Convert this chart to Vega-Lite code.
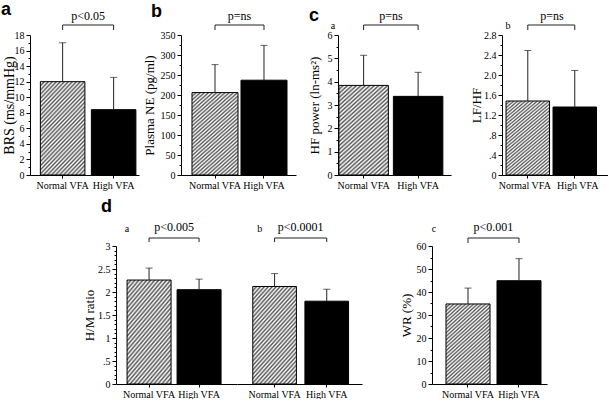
{
"$schema": "https://vega.github.io/schema/vega-lite/v6.json",
"background": "white",
"padding": {"left": 1, "top": 1, "right": 0, "bottom": 0},
"config": {
 "view": {"stroke": null},
 "font": "Liberation Serif",
 "axis": {"labelFont": "Liberation Serif", "titleFont": "Liberation Serif", "labelColor": "black", "titleColor": "black", "domainColor": "black", "tickColor": "black", "grid": false, "titleFontWeight": "normal", "domainWidth": 1, "tickWidth": 1, "labelOverlap": false},
 "axisY": {"labelFontSize": 10, "titleFontSize": 13, "labelPadding": 2},
 "title": {"font": "Liberation Sans", "fontWeight": "bold", "fontSize": 18, "anchor": "start", "frame": "group", "baseline": "alphabetic", "color": "black"},
 "text": {"font": "Liberation Serif", "color": "black"}
},
"datasets": {"bars": [
 {"panel": "BRS", "group": "Normal VFA", "mean": 12.0, "upper": 17.0},
 {"panel": "BRS", "group": "High VFA", "mean": 8.4, "upper": 12.55},
 {"panel": "NE", "group": "Normal VFA", "mean": 206, "upper": 276},
 {"panel": "NE", "group": "High VFA", "mean": 237, "upper": 324},
 {"panel": "HF", "group": "Normal VFA", "mean": 3.84, "upper": 5.13},
 {"panel": "HF", "group": "High VFA", "mean": 3.37, "upper": 4.4},
 {"panel": "LFHF", "group": "Normal VFA", "mean": 1.48, "upper": 2.49},
 {"panel": "LFHF", "group": "High VFA", "mean": 1.36, "upper": 2.09},
 {"panel": "HMa", "group": "Normal VFA", "mean": 2.26, "upper": 2.52},
 {"panel": "HMa", "group": "High VFA", "mean": 2.05, "upper": 2.28},
 {"panel": "HMb", "group": "Normal VFA", "mean": 2.12, "upper": 2.4},
 {"panel": "HMb", "group": "High VFA", "mean": 1.8, "upper": 2.06},
 {"panel": "WR", "group": "Normal VFA", "mean": 34.8, "upper": 41.7},
 {"panel": "WR", "group": "High VFA", "mean": 44.9, "upper": 54.5}
]},
"spacing": 8,
"vconcat": [
 {"hconcat": [
   {"width": 109, "height": 140,
    "title": {"text": "a", "dx": -29, "offset": -9},
    "data": {"name": "bars"},
    "transform": [{"filter": "datum.panel === 'BRS'"}],
    "encoding": {"x": {"field": "group", "type": "nominal", "sort": ["Normal VFA", "High VFA"], "scale": {"paddingInner": 0.127, "paddingOuter": 0.132, "align": 0.77}, "axis": {"title": null, "labelAngle": 0, "labelFontSize": 10, "tickSize": 3, "labelPadding": 2}}},
    "layer": [
     {"transform": [{"filter": "datum.group === 'Normal VFA'"}], "mark": {"type": "bar", "stroke": "black", "strokeWidth": 1, "fill": {"gradient":"linear","x1":0,"y1":0,"x2":0.6,"y2":1.2,"stops":[{"offset":0,"color":"#555"},{"offset":0.015,"color":"#fff"},{"offset":0.03,"color":"#555"},{"offset":0.045,"color":"#fff"},{"offset":0.06,"color":"#555"},{"offset":0.075,"color":"#fff"},{"offset":0.09,"color":"#555"},{"offset":0.105,"color":"#fff"},{"offset":0.12,"color":"#555"},{"offset":0.135,"color":"#fff"},{"offset":0.15,"color":"#555"},{"offset":0.165,"color":"#fff"},{"offset":0.18,"color":"#555"},{"offset":0.195,"color":"#fff"},{"offset":0.21,"color":"#555"},{"offset":0.225,"color":"#fff"},{"offset":0.24,"color":"#555"},{"offset":0.255,"color":"#fff"},{"offset":0.27,"color":"#555"},{"offset":0.285,"color":"#fff"},{"offset":0.3,"color":"#555"},{"offset":0.315,"color":"#fff"},{"offset":0.33,"color":"#555"},{"offset":0.345,"color":"#fff"},{"offset":0.36,"color":"#555"},{"offset":0.375,"color":"#fff"},{"offset":0.39,"color":"#555"},{"offset":0.405,"color":"#fff"},{"offset":0.42,"color":"#555"},{"offset":0.435,"color":"#fff"},{"offset":0.45,"color":"#555"},{"offset":0.465,"color":"#fff"},{"offset":0.48,"color":"#555"},{"offset":0.495,"color":"#fff"},{"offset":0.51,"color":"#555"},{"offset":0.525,"color":"#fff"},{"offset":0.54,"color":"#555"},{"offset":0.555,"color":"#fff"},{"offset":0.57,"color":"#555"},{"offset":0.585,"color":"#fff"},{"offset":0.6,"color":"#555"},{"offset":0.615,"color":"#fff"},{"offset":0.63,"color":"#555"},{"offset":0.645,"color":"#fff"},{"offset":0.66,"color":"#555"},{"offset":0.675,"color":"#fff"},{"offset":0.69,"color":"#555"},{"offset":0.705,"color":"#fff"},{"offset":0.72,"color":"#555"},{"offset":0.735,"color":"#fff"},{"offset":0.75,"color":"#555"},{"offset":0.765,"color":"#fff"},{"offset":0.78,"color":"#555"},{"offset":0.795,"color":"#fff"},{"offset":0.81,"color":"#555"},{"offset":0.825,"color":"#fff"},{"offset":0.84,"color":"#555"},{"offset":0.855,"color":"#fff"},{"offset":0.87,"color":"#555"},{"offset":0.885,"color":"#fff"},{"offset":0.9,"color":"#555"},{"offset":0.915,"color":"#fff"},{"offset":0.93,"color":"#555"},{"offset":0.945,"color":"#fff"},{"offset":0.96,"color":"#555"},{"offset":0.975,"color":"#fff"},{"offset":0.99,"color":"#555"},{"offset":1,"color":"#fff"}]}},
      "encoding": {"y": {"field": "mean", "type": "quantitative", "scale": {"domain": [0, 18], "nice": false},
        "axis": {"title": "BRS (ms/mmHg)", "titleFontSize": 14, "titlePadding": -2, "labelOverlap": false, "tickCount": 100, "values": [0,1,2,3,4,5,6,7,8,9,10,11,12,13,14,15,16,17,18], "labelExpr": "datum.value % 2 === 0 ? format(datum.value, 'd') : ''", "tickSize": {"condition": {"test": "datum.value % 2 !== 0", "value": 2}, "value": 4}}}}},
     {"transform": [{"filter": "datum.group === 'High VFA'"}], "mark": {"type": "bar", "fill": "black", "stroke": "black", "strokeWidth": 1}, "encoding": {"y": {"field": "mean", "type": "quantitative"}}},
     {"mark": {"type": "rule", "color": "#222"}, "encoding": {"y": {"field": "mean", "type": "quantitative"}, "y2": {"field": "upper"}}},
     {"mark": {"type": "tick", "color": "#222", "size": 7, "thickness": 1, "orient": "horizontal"}, "encoding": {"y": {"field": "upper", "type": "quantitative"}}},
     {"mark": {"type": "line", "color": "#222", "strokeWidth": 1, "yOffset": -10}, "encoding": {"y": {"datum": 18}}},
     {"mark": {"type": "rule", "color": "#222", "yOffset": -10, "y2Offset": -5}, "encoding": {"y": {"datum": 18}, "y2": {"datum": 18}}},
     {"transform": [{"filter": "datum.group === 'Normal VFA'"}], "mark": {"type": "text", "text": "p<0.05", "fontSize": 12, "baseline": "alphabetic", "dy": -15}, "encoding": {"x": {"datum": "Normal VFA", "bandPosition": 1.073}, "y": {"datum": 18}}}
    ]},
   {"width": 42, "height": 140, "data": {"values": []}, "mark": {"type": "point", "opacity": 0}},
   {"width": 115, "height": 140,
    "title": {"text": "b", "dx": -30, "offset": -11},
    "data": {"name": "bars"},
    "transform": [{"filter": "datum.panel === 'NE'"}],
    "encoding": {"x": {"field": "group", "type": "nominal", "sort": ["Normal VFA", "High VFA"], "scale": {"paddingInner": 0.061, "paddingOuter": 0.204, "align": 0.55}, "axis": {"title": null, "labelAngle": 0, "labelFontSize": 10, "tickSize": 3, "labelPadding": 2}}},
    "layer": [
     {"transform": [{"filter": "datum.group === 'Normal VFA'"}], "mark": {"type": "bar", "stroke": "black", "strokeWidth": 1, "fill": {"gradient":"linear","x1":0,"y1":0,"x2":0.6,"y2":1.2,"stops":[{"offset":0,"color":"#555"},{"offset":0.015,"color":"#fff"},{"offset":0.03,"color":"#555"},{"offset":0.045,"color":"#fff"},{"offset":0.06,"color":"#555"},{"offset":0.075,"color":"#fff"},{"offset":0.09,"color":"#555"},{"offset":0.105,"color":"#fff"},{"offset":0.12,"color":"#555"},{"offset":0.135,"color":"#fff"},{"offset":0.15,"color":"#555"},{"offset":0.165,"color":"#fff"},{"offset":0.18,"color":"#555"},{"offset":0.195,"color":"#fff"},{"offset":0.21,"color":"#555"},{"offset":0.225,"color":"#fff"},{"offset":0.24,"color":"#555"},{"offset":0.255,"color":"#fff"},{"offset":0.27,"color":"#555"},{"offset":0.285,"color":"#fff"},{"offset":0.3,"color":"#555"},{"offset":0.315,"color":"#fff"},{"offset":0.33,"color":"#555"},{"offset":0.345,"color":"#fff"},{"offset":0.36,"color":"#555"},{"offset":0.375,"color":"#fff"},{"offset":0.39,"color":"#555"},{"offset":0.405,"color":"#fff"},{"offset":0.42,"color":"#555"},{"offset":0.435,"color":"#fff"},{"offset":0.45,"color":"#555"},{"offset":0.465,"color":"#fff"},{"offset":0.48,"color":"#555"},{"offset":0.495,"color":"#fff"},{"offset":0.51,"color":"#555"},{"offset":0.525,"color":"#fff"},{"offset":0.54,"color":"#555"},{"offset":0.555,"color":"#fff"},{"offset":0.57,"color":"#555"},{"offset":0.585,"color":"#fff"},{"offset":0.6,"color":"#555"},{"offset":0.615,"color":"#fff"},{"offset":0.63,"color":"#555"},{"offset":0.645,"color":"#fff"},{"offset":0.66,"color":"#555"},{"offset":0.675,"color":"#fff"},{"offset":0.69,"color":"#555"},{"offset":0.705,"color":"#fff"},{"offset":0.72,"color":"#555"},{"offset":0.735,"color":"#fff"},{"offset":0.75,"color":"#555"},{"offset":0.765,"color":"#fff"},{"offset":0.78,"color":"#555"},{"offset":0.795,"color":"#fff"},{"offset":0.81,"color":"#555"},{"offset":0.825,"color":"#fff"},{"offset":0.84,"color":"#555"},{"offset":0.855,"color":"#fff"},{"offset":0.87,"color":"#555"},{"offset":0.885,"color":"#fff"},{"offset":0.9,"color":"#555"},{"offset":0.915,"color":"#fff"},{"offset":0.93,"color":"#555"},{"offset":0.945,"color":"#fff"},{"offset":0.96,"color":"#555"},{"offset":0.975,"color":"#fff"},{"offset":0.99,"color":"#555"},{"offset":1,"color":"#fff"}]}},
      "encoding": {"y": {"field": "mean", "type": "quantitative", "scale": {"domain": [0, 350], "nice": false},
        "axis": {"title": "Plasma NE (pg/ml)", "titlePadding": 4, "labelOverlap": false, "tickCount": 100, "values": [0,25,50,75,100,125,150,175,200,225,250,275,300,325,350], "labelExpr": "datum.value % 50 === 0 ? format(datum.value, 'd') : ''", "tickSize": {"condition": {"test": "datum.value % 50 !== 0", "value": 2}, "value": 4}}}}},
     {"transform": [{"filter": "datum.group === 'High VFA'"}], "mark": {"type": "bar", "fill": "black", "stroke": "black", "strokeWidth": 1}, "encoding": {"y": {"field": "mean", "type": "quantitative"}}},
     {"mark": {"type": "rule", "color": "#222"}, "encoding": {"y": {"field": "mean", "type": "quantitative"}, "y2": {"field": "upper"}}},
     {"mark": {"type": "tick", "color": "#222", "size": 7, "thickness": 1, "orient": "horizontal"}, "encoding": {"y": {"field": "upper", "type": "quantitative"}}},
     {"mark": {"type": "line", "color": "#222", "strokeWidth": 1, "yOffset": -10}, "encoding": {"y": {"datum": 350}}},
     {"mark": {"type": "rule", "color": "#222", "yOffset": -10, "y2Offset": -5}, "encoding": {"y": {"datum": 350}, "y2": {"datum": 350}}},
     {"transform": [{"filter": "datum.group === 'Normal VFA'"}], "mark": {"type": "text", "text": "p=ns", "fontSize": 12, "baseline": "alphabetic", "dy": -15}, "encoding": {"x": {"datum": "Normal VFA", "bandPosition": 1.032}, "y": {"datum": 350}}}
    ]},
   {"width": 42, "height": 140, "data": {"values": []}, "mark": {"type": "point", "opacity": 0}},
   {"width": 113, "height": 140,
    "title": {"text": "c", "dx": -29, "offset": -15},
    "data": {"name": "bars"},
    "transform": [{"filter": "datum.panel === 'HF'"}],
    "encoding": {"x": {"field": "group", "type": "nominal", "sort": ["Normal VFA", "High VFA"], "scale": {"paddingInner": 0.092, "paddingOuter": 0.083, "align": 0.1}, "axis": {"title": null, "labelAngle": 0, "labelFontSize": 10, "tickSize": 3, "labelPadding": 2}}},
    "layer": [
     {"transform": [{"filter": "datum.group === 'Normal VFA'"}], "mark": {"type": "bar", "stroke": "black", "strokeWidth": 1, "fill": {"gradient":"linear","x1":0,"y1":0,"x2":0.6,"y2":1.2,"stops":[{"offset":0,"color":"#555"},{"offset":0.015,"color":"#fff"},{"offset":0.03,"color":"#555"},{"offset":0.045,"color":"#fff"},{"offset":0.06,"color":"#555"},{"offset":0.075,"color":"#fff"},{"offset":0.09,"color":"#555"},{"offset":0.105,"color":"#fff"},{"offset":0.12,"color":"#555"},{"offset":0.135,"color":"#fff"},{"offset":0.15,"color":"#555"},{"offset":0.165,"color":"#fff"},{"offset":0.18,"color":"#555"},{"offset":0.195,"color":"#fff"},{"offset":0.21,"color":"#555"},{"offset":0.225,"color":"#fff"},{"offset":0.24,"color":"#555"},{"offset":0.255,"color":"#fff"},{"offset":0.27,"color":"#555"},{"offset":0.285,"color":"#fff"},{"offset":0.3,"color":"#555"},{"offset":0.315,"color":"#fff"},{"offset":0.33,"color":"#555"},{"offset":0.345,"color":"#fff"},{"offset":0.36,"color":"#555"},{"offset":0.375,"color":"#fff"},{"offset":0.39,"color":"#555"},{"offset":0.405,"color":"#fff"},{"offset":0.42,"color":"#555"},{"offset":0.435,"color":"#fff"},{"offset":0.45,"color":"#555"},{"offset":0.465,"color":"#fff"},{"offset":0.48,"color":"#555"},{"offset":0.495,"color":"#fff"},{"offset":0.51,"color":"#555"},{"offset":0.525,"color":"#fff"},{"offset":0.54,"color":"#555"},{"offset":0.555,"color":"#fff"},{"offset":0.57,"color":"#555"},{"offset":0.585,"color":"#fff"},{"offset":0.6,"color":"#555"},{"offset":0.615,"color":"#fff"},{"offset":0.63,"color":"#555"},{"offset":0.645,"color":"#fff"},{"offset":0.66,"color":"#555"},{"offset":0.675,"color":"#fff"},{"offset":0.69,"color":"#555"},{"offset":0.705,"color":"#fff"},{"offset":0.72,"color":"#555"},{"offset":0.735,"color":"#fff"},{"offset":0.75,"color":"#555"},{"offset":0.765,"color":"#fff"},{"offset":0.78,"color":"#555"},{"offset":0.795,"color":"#fff"},{"offset":0.81,"color":"#555"},{"offset":0.825,"color":"#fff"},{"offset":0.84,"color":"#555"},{"offset":0.855,"color":"#fff"},{"offset":0.87,"color":"#555"},{"offset":0.885,"color":"#fff"},{"offset":0.9,"color":"#555"},{"offset":0.915,"color":"#fff"},{"offset":0.93,"color":"#555"},{"offset":0.945,"color":"#fff"},{"offset":0.96,"color":"#555"},{"offset":0.975,"color":"#fff"},{"offset":0.99,"color":"#555"},{"offset":1,"color":"#fff"}]}},
      "encoding": {"y": {"field": "mean", "type": "quantitative", "scale": {"domain": [0, 6], "nice": false},
        "axis": {"title": "HF power (ln-ms²)", "titlePadding": 6, "labelOverlap": false, "tickCount": 100, "values": [0,0.5,1,1.5,2,2.5,3,3.5,4,4.5,5,5.5,6], "labelExpr": "datum.value % 1 === 0 ? format(datum.value, 'd') : ''", "tickSize": {"condition": {"test": "datum.value % 1 !== 0", "value": 2}, "value": 4}}}}},
     {"transform": [{"filter": "datum.group === 'High VFA'"}], "mark": {"type": "bar", "fill": "black", "stroke": "black", "strokeWidth": 1}, "encoding": {"y": {"field": "mean", "type": "quantitative"}}},
     {"mark": {"type": "rule", "color": "#222"}, "encoding": {"y": {"field": "mean", "type": "quantitative"}, "y2": {"field": "upper"}}},
     {"mark": {"type": "tick", "color": "#222", "size": 7, "thickness": 1, "orient": "horizontal"}, "encoding": {"y": {"field": "upper", "type": "quantitative"}}},
     {"mark": {"type": "line", "color": "#222", "strokeWidth": 1, "yOffset": -10}, "encoding": {"y": {"datum": 6}}},
     {"mark": {"type": "rule", "color": "#222", "yOffset": -10, "y2Offset": -5}, "encoding": {"y": {"datum": 6}, "y2": {"datum": 6}}},
     {"transform": [{"filter": "datum.group === 'Normal VFA'"}], "mark": {"type": "text", "text": "p=ns", "fontSize": 12, "baseline": "alphabetic", "dy": -15}, "encoding": {"x": {"datum": "Normal VFA", "bandPosition": 1.051}, "y": {"datum": 6}}},
     {"transform": [{"filter": "datum.group === 'Normal VFA'"}], "mark": {"type": "text", "text": "a", "fontSize": 10, "baseline": "alphabetic", "dy": -6, "dx": -6}, "encoding": {"x": {"datum": "Normal VFA", "bandPosition": 0}, "y": {"datum": 6}}}
    ]},
  {"width": 51, "height": 140, "data": {"values": []}, "mark": {"type": "point", "opacity": 0}},
  {"width": 106, "height": 140,
   "data": {"name": "bars"},
   "transform": [{"filter": "datum.panel === 'LFHF'"}],
   "encoding": {"x": {"field": "group", "type": "nominal", "sort": ["Normal VFA", "High VFA"], "scale": {"paddingInner": 0.074, "paddingOuter": 0.165, "align": 0.26}, "axis": {"title": null, "labelAngle": 0, "labelFontSize": 10, "tickSize": 3, "labelPadding": 2, "labelOffset": {"condition": {"test": "datum.value === 'Normal VFA'", "value": -3}, "value": 3}}}},
   "layer": [
    {"transform": [{"filter": "datum.group === 'Normal VFA'"}], "mark": {"type": "bar", "stroke": "black", "strokeWidth": 1, "fill": {"gradient":"linear","x1":0,"y1":0,"x2":0.6,"y2":1.2,"stops":[{"offset":0,"color":"#555"},{"offset":0.015,"color":"#fff"},{"offset":0.03,"color":"#555"},{"offset":0.045,"color":"#fff"},{"offset":0.06,"color":"#555"},{"offset":0.075,"color":"#fff"},{"offset":0.09,"color":"#555"},{"offset":0.105,"color":"#fff"},{"offset":0.12,"color":"#555"},{"offset":0.135,"color":"#fff"},{"offset":0.15,"color":"#555"},{"offset":0.165,"color":"#fff"},{"offset":0.18,"color":"#555"},{"offset":0.195,"color":"#fff"},{"offset":0.21,"color":"#555"},{"offset":0.225,"color":"#fff"},{"offset":0.24,"color":"#555"},{"offset":0.255,"color":"#fff"},{"offset":0.27,"color":"#555"},{"offset":0.285,"color":"#fff"},{"offset":0.3,"color":"#555"},{"offset":0.315,"color":"#fff"},{"offset":0.33,"color":"#555"},{"offset":0.345,"color":"#fff"},{"offset":0.36,"color":"#555"},{"offset":0.375,"color":"#fff"},{"offset":0.39,"color":"#555"},{"offset":0.405,"color":"#fff"},{"offset":0.42,"color":"#555"},{"offset":0.435,"color":"#fff"},{"offset":0.45,"color":"#555"},{"offset":0.465,"color":"#fff"},{"offset":0.48,"color":"#555"},{"offset":0.495,"color":"#fff"},{"offset":0.51,"color":"#555"},{"offset":0.525,"color":"#fff"},{"offset":0.54,"color":"#555"},{"offset":0.555,"color":"#fff"},{"offset":0.57,"color":"#555"},{"offset":0.585,"color":"#fff"},{"offset":0.6,"color":"#555"},{"offset":0.615,"color":"#fff"},{"offset":0.63,"color":"#555"},{"offset":0.645,"color":"#fff"},{"offset":0.66,"color":"#555"},{"offset":0.675,"color":"#fff"},{"offset":0.69,"color":"#555"},{"offset":0.705,"color":"#fff"},{"offset":0.72,"color":"#555"},{"offset":0.735,"color":"#fff"},{"offset":0.75,"color":"#555"},{"offset":0.765,"color":"#fff"},{"offset":0.78,"color":"#555"},{"offset":0.795,"color":"#fff"},{"offset":0.81,"color":"#555"},{"offset":0.825,"color":"#fff"},{"offset":0.84,"color":"#555"},{"offset":0.855,"color":"#fff"},{"offset":0.87,"color":"#555"},{"offset":0.885,"color":"#fff"},{"offset":0.9,"color":"#555"},{"offset":0.915,"color":"#fff"},{"offset":0.93,"color":"#555"},{"offset":0.945,"color":"#fff"},{"offset":0.96,"color":"#555"},{"offset":0.975,"color":"#fff"},{"offset":0.99,"color":"#555"},{"offset":1,"color":"#fff"}]}},
     "encoding": {"y": {"field": "mean", "type": "quantitative", "scale": {"domain": [0, 2.8], "nice": false},
       "axis": {"title": "LF/HF", "titlePadding": 0, "labelOverlap": false, "tickCount": 100, "values": [0,0.2,0.4,0.6,0.8,1,1.2,1.4,1.6,1.8,2,2.2,2.4,2.6,2.8], "labelExpr": "round(datum.value*10) % 4 === 0 ? (datum.value === 0 ? '0' : (datum.value < 1 ? '.' + format(round(datum.value*10), 'd') : format(datum.value, '.1f'))) : ''", "tickSize": {"condition": {"test": "round(datum.value*10) % 4 !== 0", "value": 2}, "value": 4}}}}},
    {"transform": [{"filter": "datum.group === 'High VFA'"}], "mark": {"type": "bar", "fill": "black", "stroke": "black", "strokeWidth": 1}, "encoding": {"y": {"field": "mean", "type": "quantitative"}}},
    {"mark": {"type": "rule", "color": "#222"}, "encoding": {"y": {"field": "mean", "type": "quantitative"}, "y2": {"field": "upper"}}},
    {"mark": {"type": "tick", "color": "#222", "size": 7, "thickness": 1, "orient": "horizontal"}, "encoding": {"y": {"field": "upper", "type": "quantitative"}}},
    {"mark": {"type": "line", "color": "#222", "strokeWidth": 1, "yOffset": -10}, "encoding": {"y": {"datum": 2.8}}},
    {"mark": {"type": "rule", "color": "#222", "yOffset": -10, "y2Offset": -5}, "encoding": {"y": {"datum": 2.8}, "y2": {"datum": 2.8}}},
    {"transform": [{"filter": "datum.group === 'Normal VFA'"}], "mark": {"type": "text", "text": "p=ns", "fontSize": 12, "baseline": "alphabetic", "dy": -15}, "encoding": {"x": {"datum": "Normal VFA", "bandPosition": 1.054}, "y": {"datum": 2.8}}},
    {"transform": [{"filter": "datum.group === 'Normal VFA'"}], "mark": {"type": "text", "text": "b", "fontSize": 10, "baseline": "alphabetic", "dy": -6, "dx": 2}, "encoding": {"x": {"datum": "Normal VFA", "bandPosition": 0}, "y": {"datum": 2.8}}}
   ]}
 ], "spacing": 0, "bounds": "flush"},
 {"hconcat": [
  {"width": 86, "height": 138, "data": {"values": []}, "mark": {"type": "point", "opacity": 0}},
   {"width": 121, "height": 138,
    "title": {"text": "d", "dx": -15, "offset": 5},
    "data": {"name": "bars"},
    "transform": [{"filter": "datum.panel === 'HMa'"}],
    "encoding": {"x": {"field": "group", "type": "nominal", "sort": ["Normal VFA", "High VFA"], "scale": {"paddingInner": 0.12, "paddingOuter": 0.27, "align": 0.41}, "axis": {"title": null, "labelAngle": 0, "labelFontSize": 10, "tickSize": 3, "labelPadding": 2}}},
    "layer": [
     {"transform": [{"filter": "datum.group === 'Normal VFA'"}], "mark": {"type": "bar", "stroke": "black", "strokeWidth": 1, "fill": {"gradient":"linear","x1":0,"y1":0,"x2":0.6,"y2":1.2,"stops":[{"offset":0,"color":"#555"},{"offset":0.015,"color":"#fff"},{"offset":0.03,"color":"#555"},{"offset":0.045,"color":"#fff"},{"offset":0.06,"color":"#555"},{"offset":0.075,"color":"#fff"},{"offset":0.09,"color":"#555"},{"offset":0.105,"color":"#fff"},{"offset":0.12,"color":"#555"},{"offset":0.135,"color":"#fff"},{"offset":0.15,"color":"#555"},{"offset":0.165,"color":"#fff"},{"offset":0.18,"color":"#555"},{"offset":0.195,"color":"#fff"},{"offset":0.21,"color":"#555"},{"offset":0.225,"color":"#fff"},{"offset":0.24,"color":"#555"},{"offset":0.255,"color":"#fff"},{"offset":0.27,"color":"#555"},{"offset":0.285,"color":"#fff"},{"offset":0.3,"color":"#555"},{"offset":0.315,"color":"#fff"},{"offset":0.33,"color":"#555"},{"offset":0.345,"color":"#fff"},{"offset":0.36,"color":"#555"},{"offset":0.375,"color":"#fff"},{"offset":0.39,"color":"#555"},{"offset":0.405,"color":"#fff"},{"offset":0.42,"color":"#555"},{"offset":0.435,"color":"#fff"},{"offset":0.45,"color":"#555"},{"offset":0.465,"color":"#fff"},{"offset":0.48,"color":"#555"},{"offset":0.495,"color":"#fff"},{"offset":0.51,"color":"#555"},{"offset":0.525,"color":"#fff"},{"offset":0.54,"color":"#555"},{"offset":0.555,"color":"#fff"},{"offset":0.57,"color":"#555"},{"offset":0.585,"color":"#fff"},{"offset":0.6,"color":"#555"},{"offset":0.615,"color":"#fff"},{"offset":0.63,"color":"#555"},{"offset":0.645,"color":"#fff"},{"offset":0.66,"color":"#555"},{"offset":0.675,"color":"#fff"},{"offset":0.69,"color":"#555"},{"offset":0.705,"color":"#fff"},{"offset":0.72,"color":"#555"},{"offset":0.735,"color":"#fff"},{"offset":0.75,"color":"#555"},{"offset":0.765,"color":"#fff"},{"offset":0.78,"color":"#555"},{"offset":0.795,"color":"#fff"},{"offset":0.81,"color":"#555"},{"offset":0.825,"color":"#fff"},{"offset":0.84,"color":"#555"},{"offset":0.855,"color":"#fff"},{"offset":0.87,"color":"#555"},{"offset":0.885,"color":"#fff"},{"offset":0.9,"color":"#555"},{"offset":0.915,"color":"#fff"},{"offset":0.93,"color":"#555"},{"offset":0.945,"color":"#fff"},{"offset":0.96,"color":"#555"},{"offset":0.975,"color":"#fff"},{"offset":0.99,"color":"#555"},{"offset":1,"color":"#fff"}]}},
      "encoding": {"y": {"field": "mean", "type": "quantitative", "scale": {"domain": [0, 3], "nice": false},
        "axis": {"title": "H/M ratio", "titlePadding": 1, "labelOverlap": false, "tickCount": 100, "values": [0,0.1,0.2,0.3,0.4,0.5,0.6,0.7,0.8,0.9,1,1.1,1.2,1.3,1.4,1.5,1.6,1.7,1.8,1.9,2,2.1,2.2,2.3,2.4,2.5,2.6,2.7,2.8,2.9,3], "labelExpr": "round(datum.value*10) % 5 === 0 ? (datum.value === 0.5 ? '.5' : format(datum.value, '~g')) : ''", "tickSize": {"condition": {"test": "round(datum.value*10) % 5 !== 0", "value": 2}, "value": 4}}}}},
     {"transform": [{"filter": "datum.group === 'High VFA'"}], "mark": {"type": "bar", "fill": "black", "stroke": "black", "strokeWidth": 1}, "encoding": {"y": {"field": "mean", "type": "quantitative"}}},
     {"mark": {"type": "rule", "color": "#222"}, "encoding": {"y": {"field": "mean", "type": "quantitative"}, "y2": {"field": "upper"}}},
     {"mark": {"type": "tick", "color": "#222", "size": 7, "thickness": 1, "orient": "horizontal"}, "encoding": {"y": {"field": "upper", "type": "quantitative"}}},
     {"mark": {"type": "line", "color": "#222", "strokeWidth": 1, "yOffset": -8}, "encoding": {"y": {"datum": 3}}},
     {"mark": {"type": "rule", "color": "#222", "yOffset": -8, "y2Offset": -4}, "encoding": {"y": {"datum": 3}, "y2": {"datum": 3}}},
     {"transform": [{"filter": "datum.group === 'Normal VFA'"}], "mark": {"type": "text", "text": "p<0.005", "fontSize": 12, "baseline": "alphabetic", "dy": -15}, "encoding": {"x": {"datum": "Normal VFA", "bandPosition": 1.068}, "y": {"datum": 3}}},
     {"transform": [{"filter": "datum.group === 'Normal VFA'"}], "mark": {"type": "text", "text": "a", "fontSize": 10, "baseline": "alphabetic", "dy": -14, "dx": 0}, "encoding": {"x": {"datum": "Normal VFA", "bandPosition": 0}, "y": {"datum": 3}}}
    ]},
   {"width": 125, "height": 138,
    "data": {"name": "bars"},
    "transform": [{"filter": "datum.panel === 'HMb'"}],
    "encoding": {"x": {"field": "group", "type": "nominal", "sort": ["Normal VFA", "High VFA"], "scale": {"paddingInner": 0.163, "paddingOuter": 0.28, "align": 0.54}, "axis": {"title": null, "labelAngle": 0, "labelFontSize": 10, "tickSize": 3, "labelPadding": 2}}},
    "layer": [
     {"transform": [{"filter": "datum.group === 'Normal VFA'"}], "mark": {"type": "bar", "stroke": "black", "strokeWidth": 1, "fill": {"gradient":"linear","x1":0,"y1":0,"x2":0.6,"y2":1.2,"stops":[{"offset":0,"color":"#555"},{"offset":0.015,"color":"#fff"},{"offset":0.03,"color":"#555"},{"offset":0.045,"color":"#fff"},{"offset":0.06,"color":"#555"},{"offset":0.075,"color":"#fff"},{"offset":0.09,"color":"#555"},{"offset":0.105,"color":"#fff"},{"offset":0.12,"color":"#555"},{"offset":0.135,"color":"#fff"},{"offset":0.15,"color":"#555"},{"offset":0.165,"color":"#fff"},{"offset":0.18,"color":"#555"},{"offset":0.195,"color":"#fff"},{"offset":0.21,"color":"#555"},{"offset":0.225,"color":"#fff"},{"offset":0.24,"color":"#555"},{"offset":0.255,"color":"#fff"},{"offset":0.27,"color":"#555"},{"offset":0.285,"color":"#fff"},{"offset":0.3,"color":"#555"},{"offset":0.315,"color":"#fff"},{"offset":0.33,"color":"#555"},{"offset":0.345,"color":"#fff"},{"offset":0.36,"color":"#555"},{"offset":0.375,"color":"#fff"},{"offset":0.39,"color":"#555"},{"offset":0.405,"color":"#fff"},{"offset":0.42,"color":"#555"},{"offset":0.435,"color":"#fff"},{"offset":0.45,"color":"#555"},{"offset":0.465,"color":"#fff"},{"offset":0.48,"color":"#555"},{"offset":0.495,"color":"#fff"},{"offset":0.51,"color":"#555"},{"offset":0.525,"color":"#fff"},{"offset":0.54,"color":"#555"},{"offset":0.555,"color":"#fff"},{"offset":0.57,"color":"#555"},{"offset":0.585,"color":"#fff"},{"offset":0.6,"color":"#555"},{"offset":0.615,"color":"#fff"},{"offset":0.63,"color":"#555"},{"offset":0.645,"color":"#fff"},{"offset":0.66,"color":"#555"},{"offset":0.675,"color":"#fff"},{"offset":0.69,"color":"#555"},{"offset":0.705,"color":"#fff"},{"offset":0.72,"color":"#555"},{"offset":0.735,"color":"#fff"},{"offset":0.75,"color":"#555"},{"offset":0.765,"color":"#fff"},{"offset":0.78,"color":"#555"},{"offset":0.795,"color":"#fff"},{"offset":0.81,"color":"#555"},{"offset":0.825,"color":"#fff"},{"offset":0.84,"color":"#555"},{"offset":0.855,"color":"#fff"},{"offset":0.87,"color":"#555"},{"offset":0.885,"color":"#fff"},{"offset":0.9,"color":"#555"},{"offset":0.915,"color":"#fff"},{"offset":0.93,"color":"#555"},{"offset":0.945,"color":"#fff"},{"offset":0.96,"color":"#555"},{"offset":0.975,"color":"#fff"},{"offset":0.99,"color":"#555"},{"offset":1,"color":"#fff"}]}},
      "encoding": {"y": {"field": "mean", "type": "quantitative", "scale": {"domain": [0, 3], "nice": false}, "axis": null}}},
     {"transform": [{"filter": "datum.group === 'High VFA'"}], "mark": {"type": "bar", "fill": "black", "stroke": "black", "strokeWidth": 1}, "encoding": {"y": {"field": "mean", "type": "quantitative", "axis": null}}},
     {"mark": {"type": "rule", "color": "#222"}, "encoding": {"y": {"field": "mean", "type": "quantitative", "axis": null}, "y2": {"field": "upper"}}},
     {"mark": {"type": "tick", "color": "#222", "size": 7, "thickness": 1, "orient": "horizontal"}, "encoding": {"y": {"field": "upper", "type": "quantitative", "axis": null}}},
     {"mark": {"type": "line", "color": "#222", "strokeWidth": 1, "yOffset": -8}, "encoding": {"y": {"datum": 3, "axis": null}}},
     {"mark": {"type": "rule", "color": "#222", "yOffset": -8, "y2Offset": -4}, "encoding": {"y": {"datum": 3, "axis": null}, "y2": {"datum": 3}}},
     {"transform": [{"filter": "datum.group === 'Normal VFA'"}], "mark": {"type": "text", "text": "p<0.0001", "fontSize": 12, "baseline": "alphabetic", "dy": -15}, "encoding": {"x": {"datum": "Normal VFA", "bandPosition": 1.097}, "y": {"datum": 3, "axis": null}}},
     {"transform": [{"filter": "datum.group === 'Normal VFA'"}], "mark": {"type": "text", "text": "b", "fontSize": 10, "baseline": "alphabetic", "dy": -14, "dx": 7}, "encoding": {"x": {"datum": "Normal VFA", "bandPosition": 0}, "y": {"datum": 3, "axis": null}}}
    ]},
  {"width": 70, "height": 138, "data": {"values": []}, "mark": {"type": "point", "opacity": 0}},
  {"width": 115, "height": 138,
   "data": {"name": "bars"},
   "transform": [{"filter": "datum.panel === 'WR'"}],
   "encoding": {"x": {"field": "group", "type": "nominal", "sort": ["Normal VFA", "High VFA"], "scale": {"paddingInner": 0.137, "paddingOuter": 0.196, "align": 0.7}, "axis": {"title": null, "labelAngle": 0, "labelFontSize": 10, "tickSize": 3, "labelPadding": 2}}},
   "layer": [
    {"transform": [{"filter": "datum.group === 'Normal VFA'"}], "mark": {"type": "bar", "stroke": "black", "strokeWidth": 1, "fill": {"gradient":"linear","x1":0,"y1":0,"x2":0.6,"y2":1.2,"stops":[{"offset":0,"color":"#555"},{"offset":0.015,"color":"#fff"},{"offset":0.03,"color":"#555"},{"offset":0.045,"color":"#fff"},{"offset":0.06,"color":"#555"},{"offset":0.075,"color":"#fff"},{"offset":0.09,"color":"#555"},{"offset":0.105,"color":"#fff"},{"offset":0.12,"color":"#555"},{"offset":0.135,"color":"#fff"},{"offset":0.15,"color":"#555"},{"offset":0.165,"color":"#fff"},{"offset":0.18,"color":"#555"},{"offset":0.195,"color":"#fff"},{"offset":0.21,"color":"#555"},{"offset":0.225,"color":"#fff"},{"offset":0.24,"color":"#555"},{"offset":0.255,"color":"#fff"},{"offset":0.27,"color":"#555"},{"offset":0.285,"color":"#fff"},{"offset":0.3,"color":"#555"},{"offset":0.315,"color":"#fff"},{"offset":0.33,"color":"#555"},{"offset":0.345,"color":"#fff"},{"offset":0.36,"color":"#555"},{"offset":0.375,"color":"#fff"},{"offset":0.39,"color":"#555"},{"offset":0.405,"color":"#fff"},{"offset":0.42,"color":"#555"},{"offset":0.435,"color":"#fff"},{"offset":0.45,"color":"#555"},{"offset":0.465,"color":"#fff"},{"offset":0.48,"color":"#555"},{"offset":0.495,"color":"#fff"},{"offset":0.51,"color":"#555"},{"offset":0.525,"color":"#fff"},{"offset":0.54,"color":"#555"},{"offset":0.555,"color":"#fff"},{"offset":0.57,"color":"#555"},{"offset":0.585,"color":"#fff"},{"offset":0.6,"color":"#555"},{"offset":0.615,"color":"#fff"},{"offset":0.63,"color":"#555"},{"offset":0.645,"color":"#fff"},{"offset":0.66,"color":"#555"},{"offset":0.675,"color":"#fff"},{"offset":0.69,"color":"#555"},{"offset":0.705,"color":"#fff"},{"offset":0.72,"color":"#555"},{"offset":0.735,"color":"#fff"},{"offset":0.75,"color":"#555"},{"offset":0.765,"color":"#fff"},{"offset":0.78,"color":"#555"},{"offset":0.795,"color":"#fff"},{"offset":0.81,"color":"#555"},{"offset":0.825,"color":"#fff"},{"offset":0.84,"color":"#555"},{"offset":0.855,"color":"#fff"},{"offset":0.87,"color":"#555"},{"offset":0.885,"color":"#fff"},{"offset":0.9,"color":"#555"},{"offset":0.915,"color":"#fff"},{"offset":0.93,"color":"#555"},{"offset":0.945,"color":"#fff"},{"offset":0.96,"color":"#555"},{"offset":0.975,"color":"#fff"},{"offset":0.99,"color":"#555"},{"offset":1,"color":"#fff"}]}},
     "encoding": {"y": {"field": "mean", "type": "quantitative", "scale": {"domain": [0, 60], "nice": false},
       "axis": {"title": "WR (%)", "titlePadding": 3, "labelOverlap": false, "tickCount": 100, "values": [0,5,10,15,20,25,30,35,40,45,50,55,60], "labelExpr": "datum.value % 10 === 0 ? format(datum.value, 'd') : ''", "tickSize": {"condition": {"test": "datum.value % 10 !== 0", "value": 2}, "value": 4}}}}},
    {"transform": [{"filter": "datum.group === 'High VFA'"}], "mark": {"type": "bar", "fill": "black", "stroke": "black", "strokeWidth": 1}, "encoding": {"y": {"field": "mean", "type": "quantitative"}}},
    {"mark": {"type": "rule", "color": "#222"}, "encoding": {"y": {"field": "mean", "type": "quantitative"}, "y2": {"field": "upper"}}},
    {"mark": {"type": "tick", "color": "#222", "size": 7, "thickness": 1, "orient": "horizontal"}, "encoding": {"y": {"field": "upper", "type": "quantitative"}}},
    {"mark": {"type": "line", "color": "#222", "strokeWidth": 1, "yOffset": -8}, "encoding": {"y": {"datum": 60}}},
    {"mark": {"type": "rule", "color": "#222", "yOffset": -8, "y2Offset": -3}, "encoding": {"y": {"datum": 60}, "y2": {"datum": 60}}},
    {"transform": [{"filter": "datum.group === 'Normal VFA'"}], "mark": {"type": "text", "text": "p<0.001", "fontSize": 12, "baseline": "alphabetic", "dy": -15}, "encoding": {"x": {"datum": "Normal VFA", "bandPosition": 1.079}, "y": {"datum": 60}}},
    {"transform": [{"filter": "datum.group === 'Normal VFA'"}], "mark": {"type": "text", "text": "c", "fontSize": 10, "baseline": "alphabetic", "dy": -14, "dx": -12}, "encoding": {"x": {"datum": "Normal VFA", "bandPosition": 0}, "y": {"datum": 60}}}
   ]}
 ], "spacing": 0, "bounds": "flush"}
]
}
